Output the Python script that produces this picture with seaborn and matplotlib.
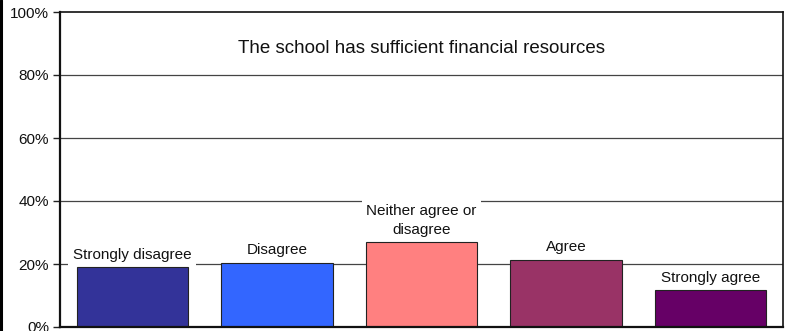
import matplotlib
matplotlib.use("Agg")
import matplotlib.pyplot as plt
import matplotlib.lines as mlines
import seaborn as sns
import pandas as pd

# Survey responses for one statement
categories = ["Strongly disagree", "Disagree", "Neither agree or\ndisagree", "Agree", "Strongly agree"]
percentages = [19.0, 20.4, 26.9, 21.3, 11.7]
bar_colors = ["#333399", "#3366FF", "#FF8080", "#993366", "#660066"]
y_ticks = [0, 20, 40, 60, 80, 100]
y_tick_labels = ["0%", "20%", "40%", "60%", "80%", "100%"]
title = "The school has sufficient financial resources"

sns.set_theme(style="white")
plt.rcParams["font.family"] = ["Liberation Sans", "DejaVu Sans"]

df = pd.DataFrame({"category": categories, "pct": percentages})

fig = plt.figure(figsize=(7.93, 3.31), dpi=100)
ax = fig.add_axes([60 / 793, 4 / 331, 723 / 793, 315 / 331])

sns.barplot(data=df, x="category", y="pct", hue="category", palette=bar_colors,
            legend=False, width=0.77, edgecolor="#222222", linewidth=0.8,
            saturation=1, ax=ax, zorder=2)

ax.set_ylim(0, 100)
ax.set_xlim(-0.5, len(categories) - 0.5)
ax.set_yticks(y_ticks)
ax.set_yticklabels(y_tick_labels, fontsize=11, color="#111111")
ax.set_xticks([])
ax.set_xlabel("")
ax.set_ylabel("")

# horizontal gridlines behind the bars
for v in y_ticks[1:-1]:
    ax.axhline(v, color="#444444", linewidth=0.9, zorder=1)

ax.tick_params(axis="y", left=True, length=5, width=1, color="#222222", pad=3)
for side in ["left", "bottom", "top", "right"]:
    ax.spines[side].set_visible(True)
    ax.spines[side].set_color("#111111")
ax.spines["left"].set_linewidth(1.6)
ax.spines["bottom"].set_linewidth(1.6)
ax.spines["top"].set_linewidth(1.2)
ax.spines["right"].set_linewidth(1.2)

# category labels above each bar
for i, (cat, val) in enumerate(zip(categories, percentages)):
    ax.annotate(cat, xy=(i, val), xytext=(0, 4), textcoords="offset points",
                ha="center", va="bottom", multialignment="center",
                fontsize=11, color="#111111", zorder=4, linespacing=1.45,
                bbox=dict(boxstyle="square,pad=0.3", facecolor="white", edgecolor="none"))

ax.text(0.5, 0.885, title, transform=ax.transAxes, ha="center", va="center",
        fontsize=13.5, color="#111111", zorder=4)

# outer frame line at the left edge
fig.add_artist(mlines.Line2D([0.0015, 0.0015], [0, 1], transform=fig.transFigure,
                             color="black", linewidth=2.2))

fig.savefig("out.png", dpi=100)
